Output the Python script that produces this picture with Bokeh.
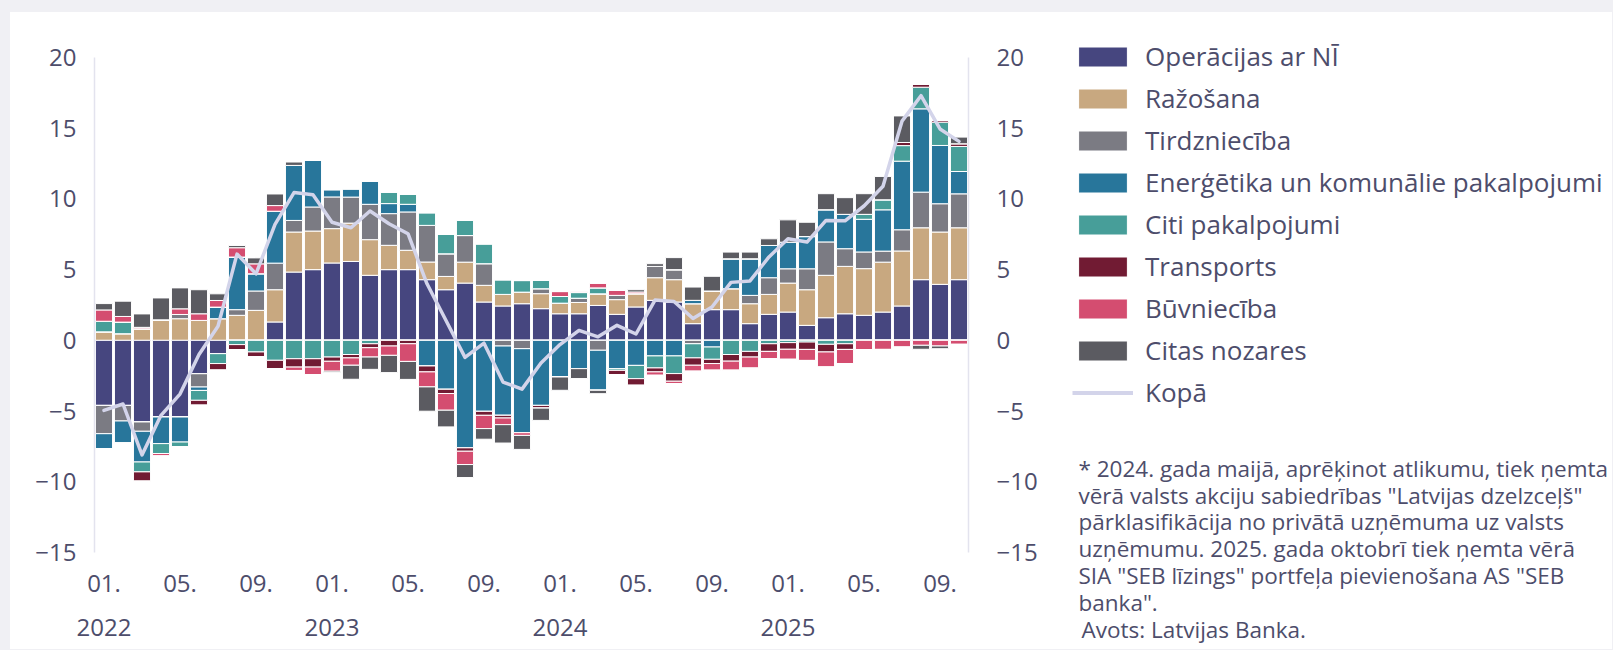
from bokeh.plotting import figure
from bokeh.layouts import row
from bokeh.models import (ColumnDataSource, FixedTicker, LinearAxis, Range1d,
                          Legend, LegendItem, Label)
from bokeh.embed import file_html
from bokeh.resources import INLINE

try:
    from bokeh.models import GlobalInlineStyleSheet
except Exception:
    GlobalInlineStyleSheet = None

# ---------------- data (percent, contribution to annual change) ----------------
months = ["2022-01", "2022-02", "2022-03", "2022-04", "2022-05", "2022-06",
          "2022-07", "2022-08", "2022-09", "2022-10", "2022-11", "2022-12",
          "2023-01", "2023-02", "2023-03", "2023-04", "2023-05", "2023-06",
          "2023-07", "2023-08", "2023-09", "2023-10", "2023-11", "2023-12",
          "2024-01", "2024-02", "2024-03", "2024-04", "2024-05", "2024-06",
          "2024-07", "2024-08", "2024-09", "2024-10", "2024-11", "2024-12",
          "2025-01", "2025-02", "2025-03", "2025-04", "2025-05", "2025-06",
          "2025-07", "2025-08", "2025-09", "2025-10"]

operacijas_ar_ni = [-4.6, -4.6, -5.77, -5.42, -5.42, -2.36, -0.94, 0.0, 0.0, 1.3,
                    4.83, 5.0, 5.47, 5.58, 4.6, 5.0, 5.0, 4.29, 3.58, 4.05,
                    2.71, 2.43, 2.59, 2.24, 1.88, 1.88, 2.47, 1.84, 2.36, 2.83,
                    2.71, 1.18, 2.17, 2.17, 1.18, 1.84, 2.0, 1.06, 1.6, 1.88,
                    1.77, 2.0, 2.43, 4.29, 3.96, 4.29]
razosana = [0.6, 0.47, 0.82, 1.45, 1.53, 1.41, 1.53, 1.77, 2.12, 2.28,
            2.83, 2.73, 2.43, 2.71, 2.52, 1.72, 1.37, 1.25, 0.94, 1.48,
            1.18, 0.82, 0.82, 1.06, 0.75, 0.8, 0.82, 1.04, 0.94, 1.6,
            1.58, 1.41, 1.32, 1.48, 1.41, 1.41, 2.05, 2.52, 3.0, 3.35,
            3.3, 3.53, 3.89, 3.67, 3.7, 3.67]
tirdznieciba = [-2.0, -1.1, -0.66, 0.0, 0.3, -0.94, 0.0, 0.4, 1.37, 1.88,
                0.82, 1.7, 2.24, 1.84, 2.5, 2.24, 2.71, 2.59, 1.6, 1.88,
                1.53, -0.4, -0.59, 0.35, 0.0, 0.3, -0.7, 0.3, 0.0, 0.8,
                0.71, -0.24, 0.0, 0.0, 0.59, 1.18, 1.01, 1.48, 2.36, 1.25,
                1.18, 0.78, 1.5, 2.52, 2.0, 2.4]
energetika = [-1.06, -1.55, -2.17, -1.88, -1.77, -0.24, 0.82, 3.72, 1.22, 3.67,
              3.89, 3.3, 0.52, 0.59, 1.65, 0.71, 0.54, -1.81, -3.46, -7.6,
              -5.02, -4.9, -5.94, -4.6, -2.59, -2.0, -2.83, -2.0, -1.77, -1.1,
              -1.1, 0.24, -0.47, 2.12, 2.59, 2.28, 1.88, 2.28, 2.28, 2.43,
              2.31, 2.92, 4.85, 5.89, 4.12, 1.58]
citi_pakalpojumi = [0.75, 0.82, -0.7, -0.7, -0.35, -0.7, -0.7, -0.3, -0.82, -1.41,
                    -1.3, -1.3, -1.18, -1.0, -0.24, 0.82, 0.71, 0.9, 1.37, 1.1,
                    1.41, 1.04, 0.82, 0.59, 0.47, 0.4, 0.42, -0.12, -0.94, -0.85,
                    -1.25, -1.0, -0.87, -1.0, -0.78, -0.24, -0.16, -0.12, -0.28, -0.24,
                    0.35, 0.71, 1.1, 1.53, 1.65, 1.77]
transports = [0.0, -0.07, -0.66, 0.0, 0.0, -0.35, -0.47, -0.35, -0.35, -0.59,
              -0.59, -0.59, -0.3, -0.24, -0.28, -0.4, -0.24, -0.42, -0.3, -0.24,
              -0.28, -0.19, 0.0, -0.19, 0.0, 0.0, 0.0, -0.3, -0.47, -0.28,
              -0.54, -0.52, -0.3, -0.47, -0.4, -0.54, -0.47, -0.52, -0.54, -0.4,
              0.0, 0.0, 0.22, 0.2, 0.12, 0.19]
buvnieciba = [0.8, 0.4, 0.1, -0.17, 0.4, 0.47, 0.47, 0.66, 0.7, 0.4,
              -0.24, -0.54, -0.7, -0.52, -0.66, -0.66, -1.25, -1.06, -1.18, -0.94,
              -0.94, -0.47, -0.19, 0.0, 0.35, 0.1, 0.33, 0.35, 0.12, -0.24,
              -0.17, -0.42, -0.47, -0.64, -0.78, -0.52, -0.71, -0.78, -1.06, -1.01,
              -0.66, -0.64, -0.47, -0.35, -0.4, -0.28]
citas_nozares = [0.45, 1.08, 0.95, 1.55, 1.48, 1.7, 0.47, 0.16, 0.42, 0.82,
                 0.24, 0.0, -0.1, -0.99, -0.87, -1.22, -1.27, -1.72, -1.18, -0.92,
                 -0.75, -1.3, -0.99, -0.87, -0.94, -0.7, -0.24, 0.0, 0.16, 0.19,
                 0.85, 0.94, 1.04, 0.47, 0.47, 0.47, 1.58, 1.01, 1.13, 1.18,
                 1.46, 1.65, 1.88, -0.28, -0.19, 0.47]
kopa = [-4.95, -4.5, -8.1, -5.3, -3.8, -1.0, 1.0, 6.1, 4.7, 8.2,
        10.45, 10.3, 8.35, 7.96, 9.15, 8.25, 7.54, 4.0, 1.4, -1.2,
        -0.2, -2.95, -3.45, -1.6, -0.3, 0.7, 0.25, 1.06, 0.45, 2.85,
        2.75, 1.55, 2.36, 4.1, 4.2, 5.9, 7.18, 6.95, 8.48, 8.45,
        9.5, 10.9, 15.5, 17.3, 14.95, 14.07]

series_names = ["Operācijas ar NĪ", "Ražošana", "Tirdzniecība",
                "Enerģētika un komunālie pakalpojumi", "Citi pakalpojumi",
                "Transports", "Būvniecība", "Citas nozares"]
series_values = [operacijas_ar_ni, razosana, tirdznieciba, energetika,
                 citi_pakalpojumi, transports, buvnieciba, citas_nozares]
line_name = "Kopā"

month_tick_labels = ["01.", "05.", "09."]
year_labels = ["2022", "2023", "2024", "2025"]
y_ticks = [-15, -10, -5, 0, 5, 10, 15, 20]

footnote_lines = [
    "* 2024. gada maijā, aprēķinot atlikumu, tiek ņemta",
    "vērā valsts akciju sabiedrības \"Latvijas dzelzceļš\"",
    "pārklasifikācija no privātā uzņēmuma uz valsts",
    "uzņēmumu. 2025. gada oktobrī tiek ņemta vērā",
    "SIA \"SEB līzings\" portfeļa pievienošana AS \"SEB",
    "banka\".",
]
source_text = "Avots: Latvijas Banka."

# ---------------- styles ----------------
colors = ["#46467f", "#c8a880", "#7b7b83", "#28769b", "#479e99",
          "#711b33", "#d44d70", "#5b5b61"]
line_color = "#d3d4ea"
text_color = "#4d4d6b"
axis_color = "#e3e3ee"
FONT = "Open Sans"

n = len(months)
xs = list(range(n))
data = {"x": xs, "kopa": kopa}
pos_keys, neg_keys = [], []
for i, vals in enumerate(series_values):
    pk, nk = f"p{i}", f"n{i}"
    data[pk] = [v if v > 0 else 0.0 for v in vals]
    data[nk] = [v if v < 0 else 0.0 for v in vals]
    pos_keys.append(pk)
    neg_keys.append(nk)
src = ColumnDataSource(data)

H = 637
W1, W2 = 1050, 552
p = figure(width=W1, height=H, output_backend="svg", toolbar_location=None,
           x_range=Range1d(-0.5, n - 0.5), y_range=Range1d(-15, 20),
           min_border_left=84, min_border_right=W1 - 84 - 874, min_border_top=45,
           min_border_bottom=H - 45 - 495)
if GlobalInlineStyleSheet is not None:
    p.stylesheets = [GlobalInlineStyleSheet(css="html, body { background-color: #f0f0f4; }")]
p.outline_line_color = None
p.background_fill_color = "white"
p.border_fill_color = "white"
p.xgrid.visible = False
p.ygrid.visible = False

pos_r = p.vbar_stack(pos_keys, x="x", width=0.9, fill_color=colors,
                     line_color="white", line_width=1, source=src)
neg_r = p.vbar_stack(neg_keys, x="x", width=0.9, fill_color=colors,
                     line_color="white", line_width=1, source=src)
line_r = p.line("x", "kopa", source=src, line_color=line_color, line_width=3.5,
                line_join="round", line_cap="round")

# ---------------- axes ----------------
y_over = {t: (str(t) if t >= 0 else "\u2212" + str(-t)) for t in y_ticks}

def style_axis(ax, standoff):
    ax.major_tick_line_color = None
    ax.minor_tick_line_color = None
    ax.major_label_text_font = FONT
    ax.major_label_text_font_size = "24px"
    ax.major_label_text_color = text_color
    ax.major_label_standoff = standoff

def style_y(ax, standoff):
    ax.ticker = FixedTicker(ticks=y_ticks)
    ax.major_label_overrides = y_over
    ax.axis_line_color = axis_color
    ax.axis_line_width = 1.5
    style_axis(ax, standoff)

style_y(p.yaxis[0], 12)
right_ax = LinearAxis()
style_y(right_ax, 22)
p.add_layout(right_ax, "right")

xa = p.xaxis[0]
month_ticks = list(range(0, n, 4))
xa.ticker = FixedTicker(ticks=month_ticks)
xa.major_label_overrides = {t: month_tick_labels[(t // 4) % 3] for t in month_ticks}
xa.axis_line_color = None
style_axis(xa, 16)

year_ax = LinearAxis()
year_ticks = list(range(0, n, 12))
year_ax.ticker = FixedTicker(ticks=year_ticks)
year_ax.major_label_overrides = {t: year_labels[k] for k, t in enumerate(year_ticks)}
year_ax.axis_line_color = None
style_axis(year_ax, 18)
p.add_layout(year_ax, "below")

# ---------------- right side: legend, footnote, source ----------------
q = figure(width=W2, height=H, output_backend="svg", toolbar_location=None,
           x_range=Range1d(0, W2), y_range=Range1d(H, 0),
           x_axis_location=None, y_axis_location=None,
           min_border_left=0, min_border_right=0, min_border_top=0, min_border_bottom=0)
for fig in (p, q):
    try:
        fig.frame_align = False
    except Exception:
        pass
q.outline_line_color = None
q.background_fill_color = "white"
q.border_fill_color = "white"
q.xgrid.visible = False
q.ygrid.visible = False

# legend proxies: zero-height, white-outlined, at the panel's corner (invisible)
proxies = []
for c in colors:
    proxies.append(q.vbar(x=[0], top=[0], bottom=[0], width=1, fill_color=c,
                          line_color="white", line_width=1))
line_proxy = q.line(x=[0, 0], y=[0, 0], line_color=line_color, line_width=4)

items = [LegendItem(label=name, renderers=[proxies[i]]) for i, name in enumerate(series_names)]
items.append(LegendItem(label=line_name, renderers=[line_proxy]))
legend = Legend(items=items, location=(12, 239), orientation="vertical",
                glyph_width=61, glyph_height=25, label_standoff=12,
                spacing=6, padding=0, margin=0,
                label_text_font=FONT, label_text_font_size="26px",
                label_text_color=text_color, background_fill_alpha=0,
                border_line_color=None)
q.add_layout(legend, "center")

# y values: page y of text centres minus the 12 px top offset
for k, line in enumerate(footnote_lines):
    q.add_layout(Label(x=18, y=456 + 26.7 * k, text=line, text_font=FONT,
                       text_font_size="22.5px", text_color=text_color,
                       text_align="left", text_baseline="middle"))
q.add_layout(Label(x=21, y=617, text=source_text, text_font=FONT,
                   text_font_size="22.5px", text_color=text_color,
                   text_align="left", text_baseline="middle"))

layout = row(p, q, margin=(12, 0, 0, 10), styles={"background-color": "white"})
open("out.html", "w").write(file_html(layout, INLINE))
